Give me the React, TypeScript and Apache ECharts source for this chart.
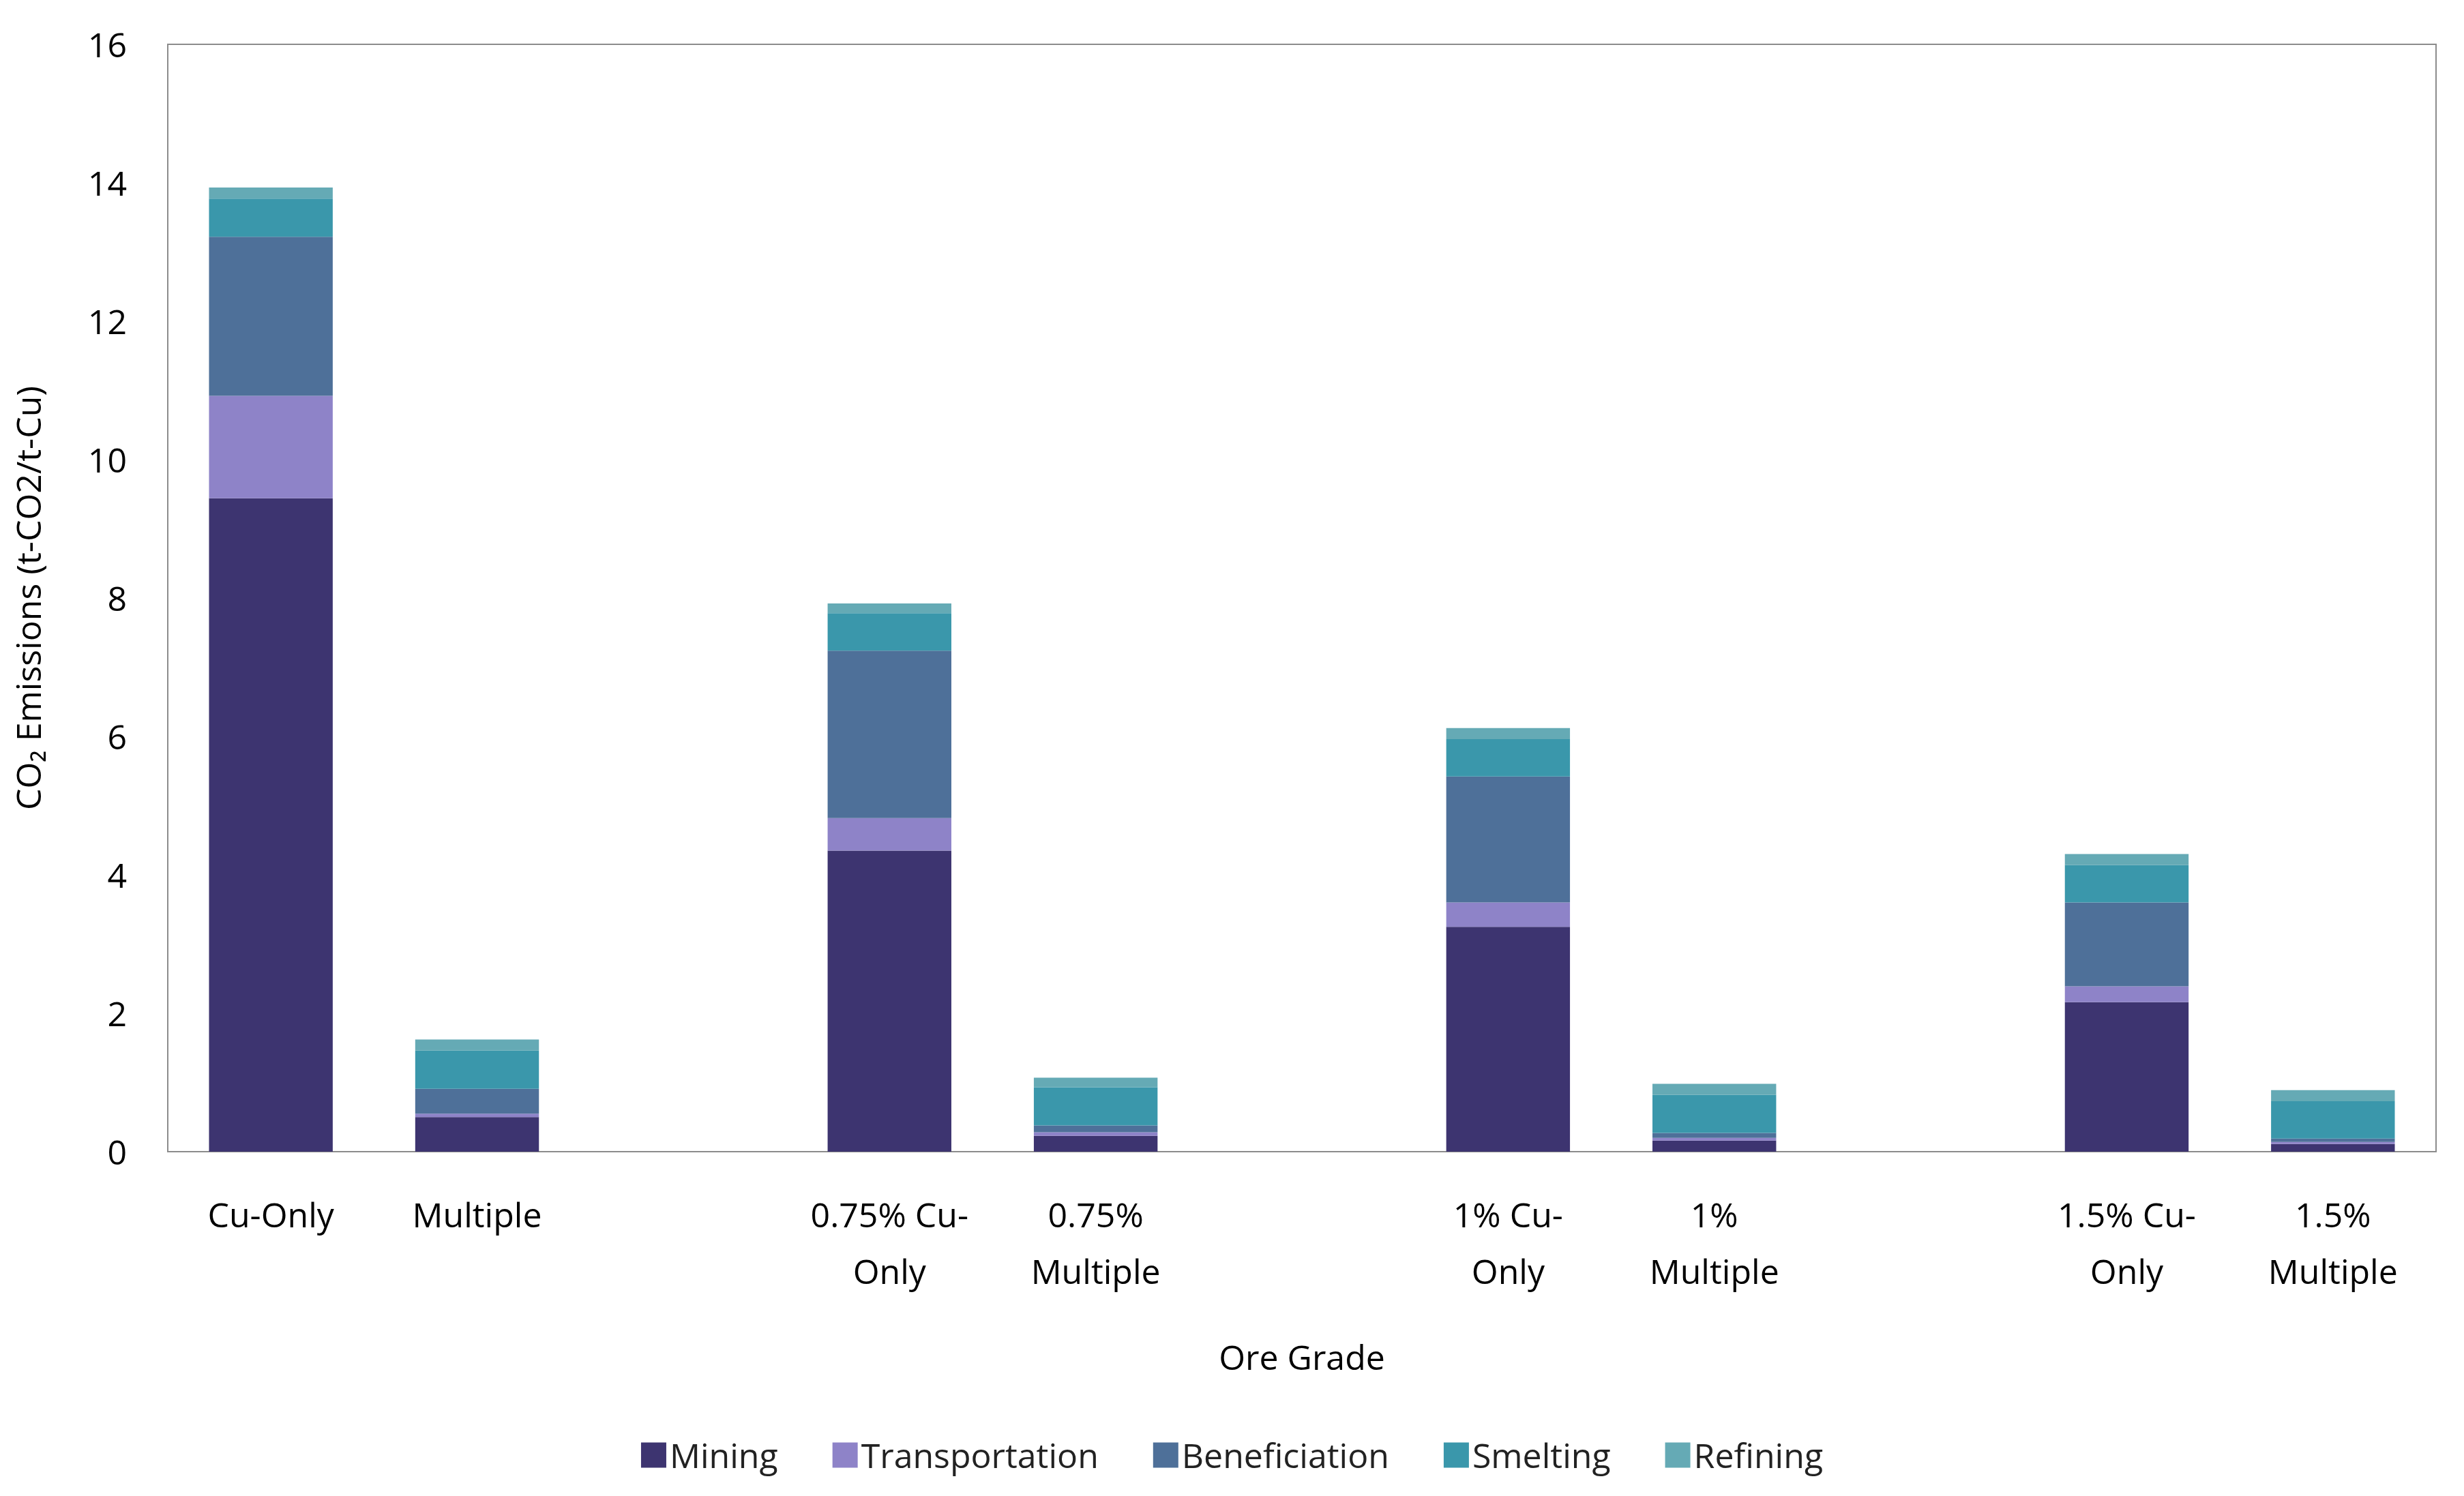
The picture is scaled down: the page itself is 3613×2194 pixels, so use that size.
import { useEffect, useRef } from "react";
import * as echarts from "echarts";

const categories = [
  "Cu-Only", "Multiple", "",
  "0.75% Cu-\nOnly", "0.75%\nMultiple", "",
  "1% Cu-\nOnly", "1%\nMultiple", "",
  "1.5% Cu-\nOnly", "1.5%\nMultiple",
];
const mining = [9.44, 0.5, null, 4.35, 0.23, null, 3.25, 0.16, null, 2.16, 0.11];
const transportation = [1.48, 0.05, null, 0.47, 0.05, null, 0.35, 0.04, null, 0.23, 0.03];
const beneficiation = [2.3, 0.36, null, 2.42, 0.1, null, 1.82, 0.07, null, 1.21, 0.05];
const smelting = [0.55, 0.55, null, 0.54, 0.55, null, 0.54, 0.55, null, 0.54, 0.54];
const refining = [0.16, 0.16, null, 0.14, 0.14, null, 0.16, 0.16, null, 0.16, 0.16];

const seriesDefs = [
  { name: "Mining", data: mining, color: "#3d3470" },
  { name: "Transportation", data: transportation, color: "#8e83c8" },
  { name: "Beneficiation", data: beneficiation, color: "#4e7099" },
  { name: "Smelting", data: smelting, color: "#3a97ab" },
  { name: "Refining", data: refining, color: "#65aab5" },
];

const font = "'Open Sans', 'Noto Sans', sans-serif";

const App = () => {
  const chartRef = useRef<HTMLDivElement>(null);

  useEffect(() => {
    document.body.style.margin = "0";
    if (!chartRef.current) return;
    const chart = echarts.init(chartRef.current, undefined, { renderer: "svg" });

    chart.setOption({
      animation: false,
      backgroundColor: "#fff",
      textStyle: { fontFamily: font, color: "#000" },
      grid: {
        left: 246, right: 41, top: 65, bottom: 505,
        show: true, borderColor: "#8c8c8c", borderWidth: 2,
      },
      legend: {
        bottom: 30,
        left: "center",
        itemWidth: 37,
        itemHeight: 37,
        itemGap: 80,
        icon: "rect",
        textStyle: { fontSize: 50, fontFamily: font, color: "#222" },
        data: seriesDefs.map((s) => s.name),
      },
      xAxis: {
        type: "category",
        data: categories,
        name: "Ore Grade",
        nameLocation: "middle",
        nameGap: 276,
        nameTextStyle: { fontSize: 50, color: "#000" },
        axisLine: { lineStyle: { color: "#8c8c8c", width: 2 } },
        axisTick: { show: false },
        axisLabel: {
          fontSize: 50, color: "#000", lineHeight: 83, margin: 50, interval: 0,
        },
      },
      yAxis: {
        type: "value",
        min: 0,
        max: 16,
        interval: 2,
        name: "CO₂ Emissions (t-CO2/t-Cu)",
        nameLocation: "middle",
        nameGap: 180,
        nameTextStyle: { fontSize: 50, color: "#000" },
        axisLine: { show: true, lineStyle: { color: "#8c8c8c", width: 2 } },
        axisTick: { show: false },
        splitLine: { show: false },
        axisLabel: { fontSize: 50, color: "#000", margin: 60 },
      },
      series: seriesDefs.map((s) => ({
        name: s.name,
        type: "bar",
        stack: "total",
        barWidth: "60%",
        data: s.data,
        itemStyle: { color: s.color },
      })),
    });

    return () => chart.dispose();
  }, []);

  return <div ref={chartRef} style={{ width: 3613, height: 2194 }} />;
};

export default App;
